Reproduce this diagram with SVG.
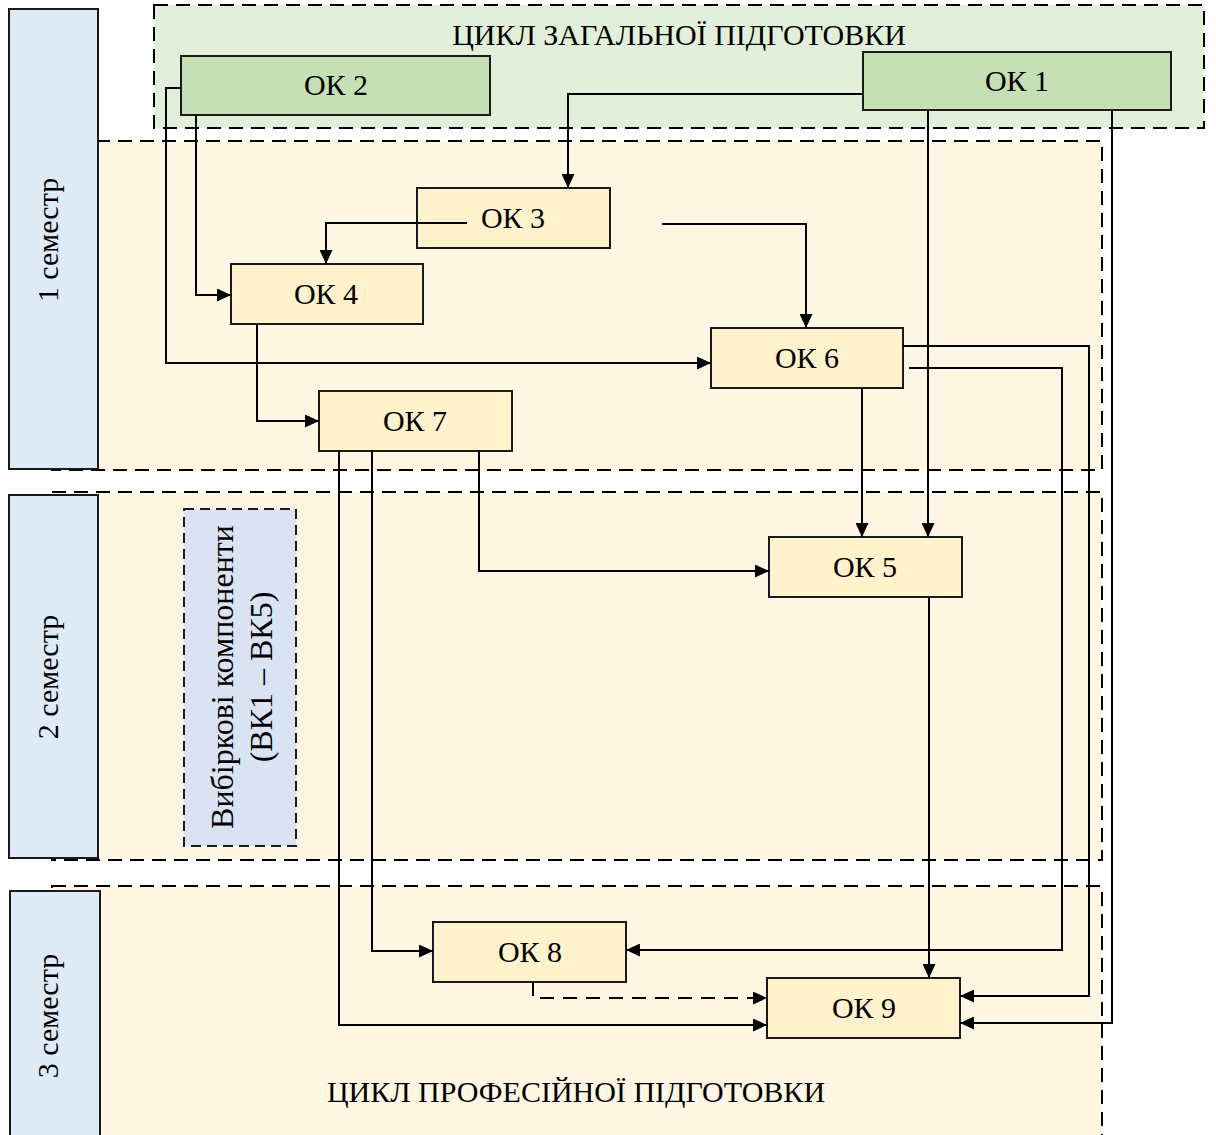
<svg xmlns="http://www.w3.org/2000/svg" width="1216" height="1135" viewBox="0 0 1216 1135">
<defs>
<marker id="arr" viewBox="0 0 14 13" refX="14" refY="6.5" markerWidth="14" markerHeight="13" markerUnits="userSpaceOnUse" orient="auto">
<path d="M0,0 L14,6.5 L0,13 z" fill="#000"/>
</marker>
<style>
text{font-family:"Liberation Serif","Times New Roman",serif;font-size:30px;fill:#000}
.lbl{text-anchor:middle}
.vkt{font-size:32px}
.region{stroke:#000;stroke-width:2;stroke-dasharray:14 8}
.green{fill:#e2efda}
.cream{fill:#fff6e3}
.sem{fill:#deebf7;stroke:#1a1a1a;stroke-width:2}
.node{fill:#fff2cc;stroke:#1a1a1a;stroke-width:2}
.gnode{fill:#c5e0b4;stroke:#1a1a1a;stroke-width:2}
.vk{fill:#dae3f3;stroke:#1a1a1a;stroke-width:2;stroke-dasharray:10 6}
.conn path{fill:none;stroke:#000;stroke-width:2}
.conn .arrow{marker-end:url(#arr)}
.conn .dash{stroke-dasharray:14 9}
</style>
</defs>
<rect width="1216" height="1135" fill="#fff"/>
<g id="cycle-general">
<rect class="region green" x="154" y="5" width="1050" height="123"/>
<text class="lbl" x="679" y="45">ЦИКЛ ЗАГАЛЬНОЇ ПІДГОТОВКИ</text>
</g>
<g id="region-sem1"><rect class="region cream" x="52" y="141" width="1050" height="329"/></g>
<g id="region-sem2"><rect class="region cream" x="52" y="492" width="1050" height="368"/></g>
<g id="region-sem3"><rect class="region cream" x="52" y="886" width="1050" height="260"/>
<text class="lbl" x="576" y="1102">ЦИКЛ ПРОФЕСІЙНОЇ ПІДГОТОВКИ</text></g>
<g id="sem1"><rect class="sem" x="9" y="9" width="89" height="460"/><text class="lbl" transform="translate(58,240) rotate(-90)">1 семестр</text></g>
<g id="sem2"><rect class="sem" x="9" y="495" width="89" height="363"/><text class="lbl" transform="translate(58,677) rotate(-90)">2 семестр</text></g>
<g id="sem3"><rect class="sem" x="10" y="891" width="90" height="260"/><text class="lbl" transform="translate(58,1016) rotate(-90)">3 семестр</text></g>
<g id="vk"><rect class="vk" x="184" y="509" width="112" height="337"/>
<text class="lbl vkt" transform="translate(233,677) rotate(-90)">Вибіркові компоненти</text>
<text class="lbl vkt" transform="translate(272,677) rotate(-90)">(ВК1 – ВК5)</text></g>
<g id="ok2"><rect class="gnode" x="181" y="56" width="309" height="59"/><text class="lbl" x="336" y="95">ОК 2</text></g>
<g id="ok1"><rect class="gnode" x="863" y="52" width="308" height="58"/><text class="lbl" x="1017" y="91">ОК 1</text></g>
<g id="ok3"><rect class="node" x="417" y="188" width="193" height="60"/><text class="lbl" x="513" y="228">ОК 3</text></g>
<g id="ok4"><rect class="node" x="231" y="264" width="192" height="60"/><text class="lbl" x="326" y="304">ОК 4</text></g>
<g id="ok6"><rect class="node" x="711" y="328" width="192" height="60"/><text class="lbl" x="807" y="368">ОК 6</text></g>
<g id="ok7"><rect class="node" x="319" y="391" width="193" height="60"/><text class="lbl" x="415" y="431">ОК 7</text></g>
<g id="ok5"><rect class="node" x="769" y="537" width="193" height="60"/><text class="lbl" x="865" y="577">ОК 5</text></g>
<g id="ok8"><rect class="node" x="433" y="922" width="193" height="60"/><text class="lbl" x="530" y="962">ОК 8</text></g>
<g id="ok9"><rect class="node" x="767" y="978" width="193" height="60"/><text class="lbl" x="864" y="1018">ОК 9</text></g>
<g id="connectors" class="conn">
<path class="arrow" d="M863,94 H568 V188"/>
<path class="arrow" d="M467,223 H326 V264"/>
<path class="arrow" d="M196,115 V295 H231"/>
<path class="arrow" d="M181,88 H166 V363 H711"/>
<path class="arrow" d="M257,324 V421 H319"/>
<path class="arrow" d="M662,224 H806 V328"/>
<path class="arrow" d="M928,110 V537"/>
<path class="arrow" d="M862,388 V537"/>
<path class="arrow" d="M903,346 H1089 V996 H960"/>
<path class="arrow" d="M909,368 H1062 V950 H626"/>
<path class="arrow" d="M1112,110 V1023 H960"/>
<path class="arrow" d="M479,451 V571 H769"/>
<path class="arrow" d="M372,451 V951 H433"/>
<path class="arrow" d="M339,451 V1025 H767"/>
<path class="arrow dash" d="M533,982 V998 H767"/>
<path class="arrow" d="M929,597 V978"/>
</g>
</svg>
